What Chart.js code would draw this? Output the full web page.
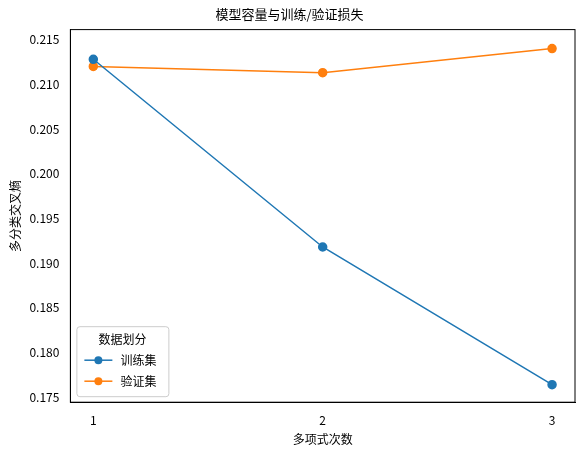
<!DOCTYPE html>
<html><head><meta charset="utf-8">
<script src="https://cdn.jsdelivr.net/npm/chart.js@4/dist/chart.umd.min.js"></script>
<style>html,body{margin:0;padding:0;background:#fff}#wrap{width:585px;height:455px}</style>
</head><body><div id="wrap"><canvas id="c" width="585" height="455"></canvas></div>
<script>
const degrees = [1, 2, 3];
const trainLoss = [0.2128, 0.1918, 0.1764];
const valLoss = [0.2120, 0.2113, 0.2140];
const yTicks = [0.175, 0.180, 0.185, 0.190, 0.195, 0.200, 0.205, 0.210, 0.215];
const seriesNames = ['训练集', '验证集'];
const colors = ['#1f77b4', '#ff7f0e'];
const F = '"Noto Sans CJK SC", "DejaVu Sans", sans-serif';
Chart.defaults.font.family = F;
Chart.defaults.color = '#000';

const legendPlugin = {
  id: 'innerLegend',
  afterDraw(chart) {
    const ctx = chart.ctx, a = chart.chartArea;
    const x = a.left + 6, w = 92, h = 70, y = a.bottom - 6 - h;
    ctx.save();
    ctx.fillStyle = 'rgba(255,255,255,0.8)';
    ctx.strokeStyle = '#ccc';
    ctx.lineWidth = 1;
    ctx.beginPath(); ctx.roundRect(x + 0.5, y + 0.5, w, h, 3); ctx.fill(); ctx.stroke();
    ctx.fillStyle = '#000';
    ctx.font = '12px ' + F;
    ctx.textBaseline = 'middle';
    ctx.textAlign = 'center';
    ctx.fillText('数据划分', x + w / 2, y + 13);
    ctx.textAlign = 'left';
    seriesNames.forEach((n, i) => {
      const yy = y + 34 + i * 21;
      ctx.strokeStyle = colors[i]; ctx.lineWidth = 1.5;
      ctx.beginPath(); ctx.moveTo(x + 8, yy); ctx.lineTo(x + 36, yy); ctx.stroke();
      ctx.fillStyle = colors[i];
      ctx.beginPath(); ctx.arc(x + 22, yy, 4, 0, Math.PI * 2); ctx.fill();
      ctx.fillStyle = '#000';
      ctx.fillText(n, x + 44, yy);
    });
    ctx.restore();
  }
};

new Chart(document.getElementById('c'), {
  type: 'line',
  data: {
    datasets: [trainLoss, valLoss].map((d, i) => ({
      label: seriesNames[i],
      data: degrees.map((x, j) => ({x, y: d[j]})),
      borderColor: colors[i], backgroundColor: colors[i],
      borderWidth: 1.5, pointRadius: 4, pointHoverRadius: 4, tension: 0
    }))
  },
  options: {
    responsive: false, animation: false,
    layout: {padding: {left: 4, right: 10, top: 0, bottom: 4}},
    plugins: {
      legend: {display: false},
      tooltip: {enabled: false},
      title: {display: true, text: '模型容量与训练/验证损失', font: {size: 13, weight: 'normal'}, padding: {top: 6, bottom: 8}}
    },
    scales: {
      x: {
        type: 'linear', min: 0.9, max: 3.1,
        afterBuildTicks: s => { s.ticks = degrees.map(v => ({value: v})); },
        ticks: {font: {size: 12}, callback: v => String(v)},
        grid: {display: false, drawTicks: true},
        border: {color: '#000'},
        title: {display: true, text: '多项式次数', font: {size: 12}, padding: {top: 2}}
      },
      y: {
        min: 0.17444, max: 0.21612,
        afterBuildTicks: s => { s.ticks = yTicks.map(v => ({value: v})); },
        ticks: {font: {size: 12}, callback: v => v.toFixed(3)},
        grid: {display: false},
        border: {color: '#000'},
        title: {display: true, text: '多分类交叉熵', font: {size: 12}}
      }
    }
  },
  plugins: [legendPlugin, {
    id: 'frame',
    afterDraw(c) {
      const a = c.chartArea, ctx = c.ctx;
      ctx.save(); ctx.strokeStyle = '#000'; ctx.lineWidth = 1;
      ctx.strokeRect(a.left, a.top, a.right - a.left, a.bottom - a.top);
      ctx.restore();
    }
  }]
});
</script></body></html>
